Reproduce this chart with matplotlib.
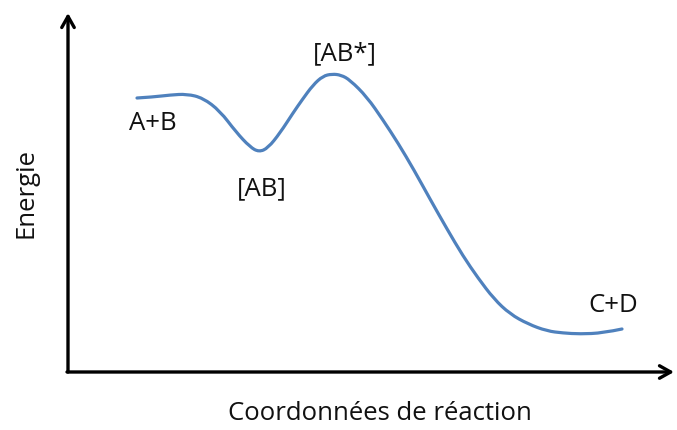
import matplotlib
matplotlib.use("Agg")
import matplotlib.pyplot as plt
from matplotlib.path import Path
from matplotlib.patches import PathPatch

plt.rcParams['font.family'] = ['Open Sans', 'DejaVu Sans']

# Curve (pixel-like coordinates, y grows downward)
curve_x = [137, 153, 170, 187, 203, 220, 236, 250, 259, 268, 280, 293, 302, 313, 323,
           332, 341, 350, 367, 383, 398, 414, 430, 447, 463, 478, 494, 510, 528,
           547, 563, 580, 603, 622]
curve_y = [98, 97, 95, 94, 98, 111, 132, 147, 152, 148, 133, 113, 100, 85, 76,
           74, 75, 80, 97, 120, 143, 170, 199, 229, 256, 278, 299, 314, 324,
           331, 333, 334, 333, 329]

labels = ["A+B", "[AB]", "[AB*]", "C+D"]
label_x = [153, 262, 345, 613]
label_y = [123, 189, 54, 305]

xlabel = "Coordonnées de réaction"
ylabel = "Energie"

fig = plt.figure(figsize=(6.77, 4.30), dpi=100)
ax = fig.add_axes([0, 0, 1, 1])
ax.set_xlim(0, 677)
ax.set_ylim(430, 0)
ax.axis('off')

# smooth curve: quadratic Bezier through midpoints
pts = list(zip(curve_x, curve_y))
verts = [pts[0]]
codes = [Path.MOVETO]
for i in range(1, len(pts) - 1):
    mid = ((pts[i][0] + pts[i + 1][0]) / 2, (pts[i][1] + pts[i + 1][1]) / 2)
    if i == len(pts) - 2:
        mid = pts[i + 1]
    verts += [pts[i], mid]
    codes += [Path.CURVE3, Path.CURVE3]
ax.add_patch(PathPatch(Path(verts, codes), facecolor='none',
                       edgecolor='#4F81BD', lw=2.3, capstyle='round'))

# axes with arrows
arrow_kw = dict(arrowstyle='->,head_length=0.8,head_width=0.45', lw=2.4,
                color='black', shrinkA=0, shrinkB=0)
ax.annotate('', xy=(68, 13), xytext=(68, 372), arrowprops=arrow_kw)
ax.annotate('', xy=(674, 372), xytext=(67, 372), arrowprops=arrow_kw)

fs = 18.5
for t, x, y in zip(labels, label_x, label_y):
    ax.text(x, y, t, fontsize=fs, ha='center', va='center', color='#111111')

ax.text(380, 413, xlabel, fontsize=fs, ha='center', va='center', color='#111111')
ax.text(26, 193, ylabel, fontsize=fs, ha='center', va='center', rotation=90,
        color='#111111')

fig.savefig('out.png', dpi=100)
